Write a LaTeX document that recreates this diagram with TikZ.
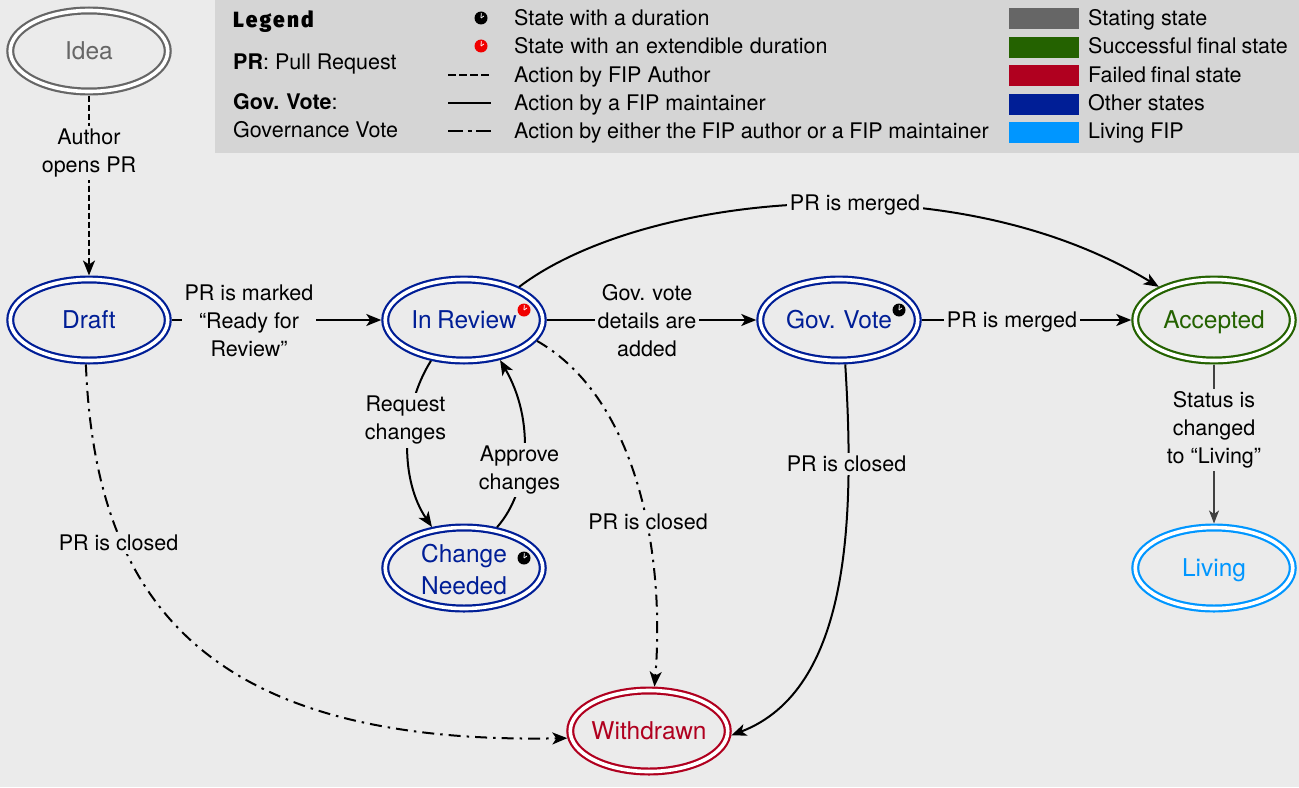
\documentclass[tikz,border=0pt]{standalone}
\usepackage{fontspec}
\usetikzlibrary{shapes.geometric,arrows.meta}
\setmainfont{TeX Gyre Heros}
\newfontfamily\heavyfont[LetterSpace=10,FakeStretch=0.95]{Fira Sans Black}
\definecolor{bgc}{HTML}{EBEBEB}
\definecolor{legc}{HTML}{D5D5D5}
\definecolor{cgray}{HTML}{666666}
\definecolor{cgreen}{HTML}{246200}
\definecolor{cred}{HTML}{B0001F}
\definecolor{cblue}{HTML}{001E96}
\definecolor{clight}{HTML}{0096FF}
\definecolor{cclock}{HTML}{F00000}
\newcommand\oneline[1]{\makebox[0pt]{\raisebox{-8.8bp}[0pt][0pt]{#1}}}
\newcommand\twolines[2]{\makebox[0pt]{\raisebox{6bp}[0pt][0pt]{#1}}\makebox[0pt]{\raisebox{-26bp}[0pt][0pt]{#2}}}
\tikzset{
  x=1bp,y=-1bp,
  statenode/.style={ellipse,draw=#1,text=#1,fill=bgc,line width=2.2bp,double=white,double distance=3.6bp,
    minimum width=157.5bp,minimum height=81bp,outer sep=4bp,inner sep=0pt,
    font=\fontsize{24.5bp}{32bp}\selectfont},
  edgelabel/.style={fill=bgc,inner sep=3bp,align=center,text=black,font=\fontsize{21.5bp}{28bp}\selectfont},
  legtext/.style={anchor=base west,inner sep=0pt,text=black,font=\fontsize{21.5bp}{26bp}\selectfont},
  swatch/.style={fill=#1,draw=none,minimum width=70bp,minimum height=21bp,inner sep=0pt,outer sep=0pt},
  conn/.style={line width=2bp,black,-{Stealth[length=15bp,width=12bp,inset=4bp]}},
  thinconn/.style={line width=1.4bp,black!75,-{Stealth[length=13bp,width=10bp,inset=3.5bp]}},
  bydash/.style={dash pattern=on 6bp off 3bp},
  bydashdot/.style={dash pattern=on 12bp off 6bp on 2.5bp off 6bp},
  clockface/.style={circle,fill=#1,minimum size=13bp,inner sep=0pt,outer sep=0pt},
  clockhand/.style={draw=white,line width=0.8bp},
  pics/clock/.style={code={
    \node[clockface=#1] {};
    \draw[clockhand] (0,0) -- (0.3,-5);
    \draw[clockhand] (0,0) -- (3,-2);
  }},
}
\begin{document}
\begin{tikzpicture}
\useasboundingbox (0,0) rectangle (1299,787);
\fill[bgc] (0,0) rectangle (1299,787);
\fill[legc] (215,0) rectangle (1299,153);

% legend
\node[legtext,font=\fontsize{22bp}{24bp}\heavyfont] (legtitle) at (233,27.5) {Legend};
\node[legtext] (legpr) at (233,69) {\textbf{PR}: Pull Request};
\node[legtext] (leggov) at (233,109) {\spaceskip=5bp\textbf{Gov. Vote}:};
\node[legtext] (leggov2) at (233,137) {Governance Vote};

\pic at (481,18) {clock=black};
\pic at (481,46) {clock=cclock};
\node[legtext] (t1) at (514,26) {State with a duration};
\node[legtext] (t2) at (514,54) {\spaceskip=6.7bp State with an extendible duration};
\node[legtext] (t3) at (514,82) {Action by FIP Author};
\node[legtext] (t4) at (514,110) {Action by a FIP maintainer};
\node[legtext] (t5) at (514,138) {\spaceskip=5.55bp Action by either the FIP author or a FIP maintainer};
\coordinate (la1) at (448,75); \coordinate (lb1) at (491,75);
\coordinate (la2) at (448,103); \coordinate (lb2) at (491,103);
\coordinate (la3) at (448,131); \coordinate (lb3) at (491.5,131);
\draw[line width=2.4bp,dash pattern=on 7.5bp off 3.5bp] (la1) -- (lb1);
\draw[line width=2.4bp] (la2) -- (lb2);
\draw[line width=2.4bp,dash pattern=on 15bp off 4.5bp on 4bp off 4.5bp] (la3) -- (lb3);

\node[swatch=cgray] (s1) at (1044,18.5) {};
\node[swatch=cgreen] (s2) at (1044,47.5) {};
\node[swatch=cred] (s3) at (1044,75.5) {};
\node[swatch=cblue] (s4) at (1044,104) {};
\node[swatch=clight] (s5) at (1044,132.5) {};
\node[legtext] (u1) at (1088,26) {Stating state};
\node[legtext] (u2) at (1088,54) {\spaceskip=5bp Successful final state};
\node[legtext] (u3) at (1088,82) {\spaceskip=5bp Failed final state};
\node[legtext] (u4) at (1088,110) {Other states};
\node[legtext] (u5) at (1088,138.5) {Living FIP};

% states
\node[statenode=cgray] (idea) at (89,51) {\oneline{Idea}};
\node[statenode=cblue] (draft) at (89,320) {\oneline{Draft}};
\node[statenode=cblue] (review) at (464,320) {\oneline{\spaceskip=5.5bp In Review}};
\node[statenode=cblue] (change) at (464,568) {\twolines{Change}{Needed}};
\node[statenode=cblue] (vote) at (839,320) {\oneline{\spaceskip=5.5bp Gov. Vote}};
\node[statenode=cgreen] (accepted) at (1214,320) {\oneline{Accepted}};
\node[statenode=clight] (living) at (1214,568) {\oneline{Living}};
\node[statenode=cred] (withdrawn) at (649,731) {\oneline{Withdrawn}};

\pic at (524,310) {clock=cclock};
\pic at (524,558) {clock=black};
\pic at (899,310) {clock=black};

% connectors
\draw[conn,bydash] (idea) -- (draft);
\draw[conn] (draft) -- (review);
\draw[conn] (review) -- (vote);
\draw[conn] (vote) -- (accepted);
\draw[thinconn] (accepted) -- (living);
\draw[conn] (review.31) .. controls (640,195) and (950,160) .. (accepted.149);
\draw[conn,bydashdot] (draft.266) .. controls (95,600) and (205,745) .. (withdrawn.185);
\draw[conn,bydashdot] (review.-16) .. controls (640,400) and (665,560) .. (withdrawn.83);
\draw[conn] (vote.-82) .. controls (855,520) and (850,690) .. (withdrawn.-3);
\draw[conn] (review.-129) .. controls (400,410) and (400,480) .. (change.128);
\draw[conn] (change.51) .. controls (530,490) and (535,420) .. (review.-48);

% labels
\node[edgelabel] (l1) at (89,153) {Author\\opens PR};
\node[edgelabel] (l2) at (249,321) {PR is marked\\“Ready for\\Review”};
\node[edgelabel] (l3) at (647,321) {\spaceskip=5.2bp Gov. vote\\details are\\added};
\node[edgelabel] (l4) at (1012,322) {PR is merged};
\node[edgelabel] (l5) at (855,205) {PR is merged};
\node[edgelabel] (l6) at (1214,430) {Status is\\changed\\to “Living”};
\node[edgelabel] (l7) at (118.5,543) {PR is closed};
\node[edgelabel] (l8) at (648,522) {PR is closed};
\node[edgelabel] (l9) at (846.5,464) {PR is closed};
\node[edgelabel] (l10) at (405.5,420.5) {Request\\changes};
\node[edgelabel] (l11) at (519.5,470) {Approve\\changes};
\end{tikzpicture}
\end{document}
